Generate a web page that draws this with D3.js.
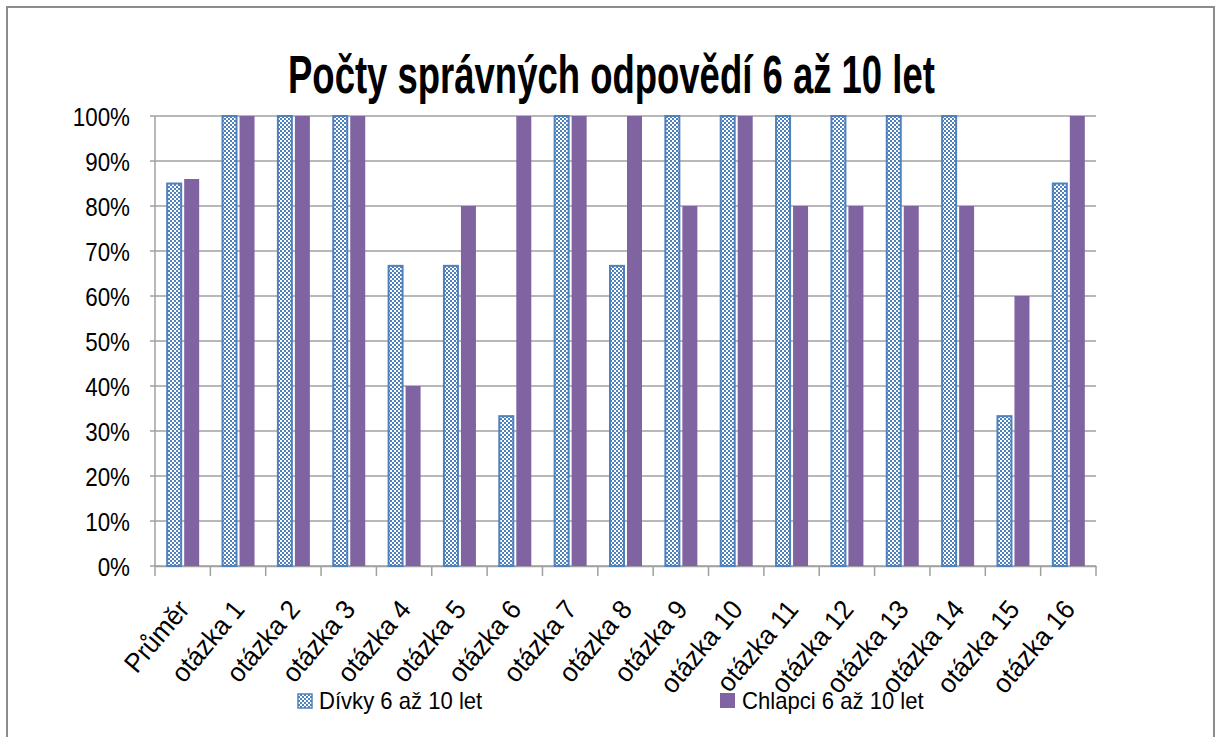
<!DOCTYPE html>
<html>
<head>
<meta charset="utf-8">
<script src="https://cdn.jsdelivr.net/npm/d3@7"></script>
<style>
  body { margin: 0; background: #fff; }
  text { font-family: "Liberation Sans", "DejaVu Sans", sans-serif; fill: #000; }
</style>
</head>
<body>
<script>
// chart size
const w = 1222;
const h = 737;
const m = {left: 155, right: 126, top: 116, bottom: 171};

// data
const categories = ["Průměr", "otázka 1", "otázka 2", "otázka 3", "otázka 4", "otázka 5", "otázka 6", "otázka 7", "otázka 8",
  "otázka 9", "otázka 10", "otázka 11", "otázka 12", "otázka 13", "otázka 14", "otázka 15", "otázka 16"];
const divky = [0.85, 1, 1, 1, 0.667, 0.667, 0.333, 1, 0.667, 1, 1, 1, 1, 1, 1, 0.333, 0.85];
const chlapci = [0.86, 1, 1, 1, 0.4, 0.8, 1, 1, 1, 0.8, 1, 0.8, 0.8, 0.8, 0.8, 0.6, 1];
const seriesNames = ["Dívky 6 až 10 let", "Chlapci 6 až 10 let"];
const yTicks = [0, 0.1, 0.2, 0.3, 0.4, 0.5, 0.6, 0.7, 0.8, 0.9, 1];

const blue = "#4F81BD";
const purple = "#8064A2";

// squeeze text horizontally so it looks like a narrow font
function squeeze(sel, k) {
  sel.each(function() {
    const len = this.getComputedTextLength();
    d3.select(this).attr("textLength", len * k).attr("lengthAdjust", "spacingAndGlyphs");
  });
}

const svg = d3.select("body").append("svg")
  .attr("width", w)
  .attr("height", h);

// checkered pattern for girls
const pat = svg.append("defs").append("pattern")
  .attr("id", "checker")
  .attr("patternUnits", "userSpaceOnUse")
  .attr("width", 4).attr("height", 4);
pat.append("rect").attr("width", 4).attr("height", 4).attr("fill", blue);
pat.append("rect").attr("x", 0).attr("y", 0).attr("width", 2).attr("height", 2).attr("fill", "#fff");
pat.append("rect").attr("x", 2).attr("y", 2).attr("width", 2).attr("height", 2).attr("fill", "#fff");

// outer frame
svg.append("rect")
  .attr("x", 7).attr("y", 7)
  .attr("width", 1207).attr("height", 760)
  .attr("fill", "none")
  .attr("stroke", "#8c8c8c")
  .attr("stroke-width", 2);

// title, scaled to the reference width
const title = svg.append("text")
  .attr("font-size", 54)
  .attr("font-weight", "bold")
  .text("Počty správných odpovědí 6 až 10 let");
const tLen = title.node().getComputedTextLength();
title.attr("transform", "translate(288,93) scale(" + (647 / tLen) + ",1)");

const x0 = d3.scaleBand()
  .domain(categories)
  .range([m.left, w - m.right])
  .paddingInner(0)
  .paddingOuter(0);

const y = d3.scaleLinear()
  .domain([0, 1])
  .range([h - m.bottom, m.top]);

// gridlines
svg.append("g")
  .selectAll("line")
  .data(yTicks)
  .join("line")
  .attr("x1", m.left - 5)
  .attr("x2", w - m.right)
  .attr("y1", d => y(d))
  .attr("y2", d => y(d))
  .attr("stroke", "#a0a0a0")
  .attr("stroke-width", 1.5);

// y labels
svg.append("g")
  .selectAll("text")
  .data(yTicks)
  .join("text")
  .attr("x", 130)
  .attr("y", d => y(d) + 10)
  .attr("text-anchor", "end")
  .attr("font-size", 26)
  .text(d3.format(".0%"))
  .call(squeeze, 0.86);

// y axis line
svg.append("line")
  .attr("x1", m.left).attr("x2", m.left)
  .attr("y1", m.top).attr("y2", h - m.bottom)
  .attr("stroke", "#a0a0a0").attr("stroke-width", 1.5);

// x axis line and ticks
const xAxis = d3.axisBottom(x0).tickSize(0).tickFormat("");
const gx = svg.append("g")
  .attr("transform", "translate(0," + (h - m.bottom) + ")")
  .call(xAxis);
gx.select(".domain").attr("stroke", "#a0a0a0").attr("stroke-width", 1.5);
gx.selectAll(".tickmark")
  .data(categories.concat(["_end"]))
  .join("line")
  .attr("class", "tickmark")
  .attr("x1", (d, i) => m.left + i * x0.bandwidth())
  .attr("x2", (d, i) => m.left + i * x0.bandwidth())
  .attr("y1", 0).attr("y2", 10)
  .attr("stroke", "#a0a0a0").attr("stroke-width", 1.5);

// category labels, rotated
svg.append("g")
  .selectAll("text")
  .data(categories)
  .join("text")
  .attr("transform", d => "translate(" + (x0(d) + x0.bandwidth() / 2 + 8) + ",610) rotate(-50)")
  .attr("text-anchor", "end")
  .attr("font-size", 27)
  .text(d => d)
  .call(squeeze, 0.95);

// bars
const bw = 14;
const gap = 3;
const bars = svg.append("g");
bars.selectAll("rect.divky")
  .data(divky)
  .join("rect")
  .attr("class", "divky")
  .attr("x", (d, i) => x0(categories[i]) + x0.bandwidth() / 2 - gap / 2 - bw)
  .attr("y", d => y(d))
  .attr("width", bw)
  .attr("height", d => y(0) - y(d))
  .attr("fill", "url(#checker)")
  .attr("stroke", blue)
  .attr("stroke-width", 2);

bars.selectAll("rect.chlapci")
  .data(chlapci)
  .join("rect")
  .attr("class", "chlapci")
  .attr("x", (d, i) => x0(categories[i]) + x0.bandwidth() / 2 + gap / 2)
  .attr("y", d => y(d))
  .attr("width", bw + 1)
  .attr("height", d => y(0) - y(d))
  .attr("fill", purple);

// legend
const legendX = [297, 720];
const lg = svg.append("g");
lg.append("rect")
  .attr("x", legendX[0] + 1).attr("y", 694)
  .attr("width", 14).attr("height", 14)
  .attr("fill", "url(#checker)")
  .attr("stroke", blue).attr("stroke-width", 1.5);
lg.append("rect")
  .attr("x", legendX[1]).attr("y", 693)
  .attr("width", 15).attr("height", 15)
  .attr("fill", purple);
lg.selectAll("text")
  .data(seriesNames)
  .join("text")
  .attr("x", (d, i) => legendX[i] + 22)
  .attr("y", 709)
  .attr("font-size", 24)
  .text(d => d)
  .call(squeeze, 0.92);
</script>
</body>
</html>
